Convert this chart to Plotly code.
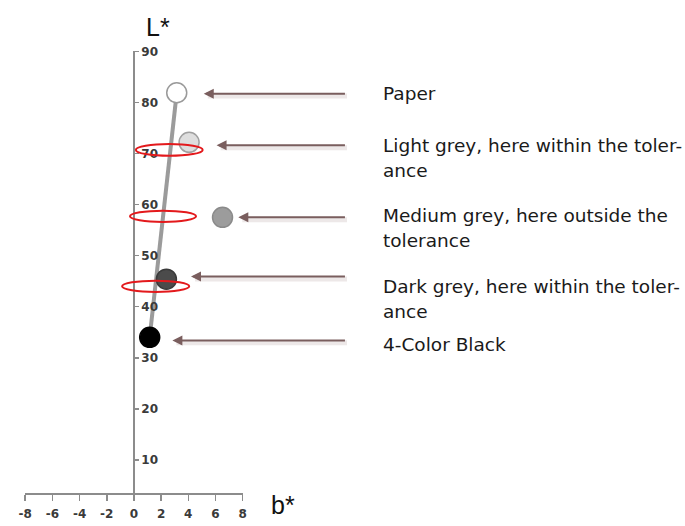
import plotly.graph_objects as go

# ---------------- data ----------------
sample_names = ["Paper", "Light grey", "Medium grey", "Dark grey", "4-Color Black"]
sample_b = [3.15, 4.06, 6.52, 2.39, 1.16]
sample_L = [81.9, 72.2, 57.5, 45.4, 34.0]
sample_fill = ["#ffffff", "#dedede", "#9c9c9c", "#4b4b4b", "#000000"]
sample_edge = ["#9a9a9a", "#a0a0a0", "#8a8a8a", "#3a3a3a", "#000000"]

# grey reference line (paper -> black)
ref_b = [3.15, 1.16]
ref_L = [81.9, 34.0]

# tolerance ellipses (centre b, centre L, half-width b, half-height L)
tol_b = [2.60, 2.14, 1.60]
tol_L = [70.7, 57.7, 44.0]
tol_rb = [2.46, 2.43, 2.47]
tol_rL = [1.15, 1.10, 1.10]

# arrows (tip b, L); all start at the same b
arrow_tip_b = [5.14, 6.08, 7.68, 4.20, 2.83]
arrow_L = [81.7, 71.6, 57.5, 45.9, 33.4]
arrow_tail_b = 15.64

# label texts
label_lines = [
    ["Paper"],
    ["Light grey, here within the toler-", "ance"],
    ["Medium grey, here outside the", "tolerance"],
    ["Dark grey, here within the toler-", "ance"],
    ["4-Color Black"],
]
label_L = [81.7, 71.6, 57.9, 44.0, 32.6]
line_gap_L = 5.0

x_ticks = [-8, -6, -4, -2, 0, 2, 4, 6, 8]
y_ticks = [10, 20, 30, 40, 50, 60, 70, 80, 90]

# ---------------- geometry (figure pixels) ----------------
W, H = 685, 526
px_per_b = 13.81
px_per_L = 5.175
x0_px = 129          # pixel of b = 0
y90_px = 45          # pixel of L = 90
axis_px = 493        # pixel row of the b* axis
label_px = 380       # left edge of label text

x_min, x_max = min(x_ticks), max(x_ticks)
x_dom = [(x0_px + x_min * px_per_b) / W, (x0_px + x_max * px_per_b) / W]
y_bottom = 90 - (axis_px - y90_px) / px_per_L
y_top = 90 + y90_px / px_per_L
y_dom = [(H - axis_px) / H, 1.0]


def L_to_paper(L):
    return y_dom[0] + (L - y_bottom) / (y_top - y_bottom) * (y_dom[1] - y_dom[0])


fig = go.Figure()

# grey line
fig.add_trace(go.Scatter(
    x=ref_b, y=ref_L, mode="lines",
    line=dict(color="#9b9b9b", width=4),
    hoverinfo="skip", showlegend=False, cliponaxis=False))

# samples
fig.add_trace(go.Scatter(
    x=sample_b, y=sample_L, mode="markers", text=sample_names,
    marker=dict(size=20, color=sample_fill,
                line=dict(color=sample_edge, width=1.5)),
    cliponaxis=False, showlegend=False))

# tolerance ellipses
for cb, cl, rb, rl in zip(tol_b, tol_L, tol_rb, tol_rL):
    fig.add_shape(type="circle", xref="x", yref="y",
                  x0=cb - rb, x1=cb + rb, y0=cl - rl, y1=cl + rl,
                  line=dict(color="#e3191c", width=2), fillcolor="rgba(0,0,0,0)")

# arrows (with soft shadow)
for tb, al in zip(arrow_tip_b, arrow_L):
    fig.add_annotation(x=tb + 0.3, y=al - 0.45, ax=arrow_tail_b + 0.15, ay=al - 0.45,
                       xref="x", yref="y", axref="x", ayref="y",
                       text="", showarrow=True, arrowhead=0, arrowwidth=5,
                       arrowcolor="rgba(160,130,130,0.18)", standoff=0)
    fig.add_annotation(x=tb, y=al, ax=arrow_tail_b, ay=al,
                       xref="x", yref="y", axref="x", ayref="y",
                       text="", showarrow=True, arrowhead=2, arrowsize=1,
                       arrowwidth=2, arrowcolor="#7a5e5e", standoff=0)

# labels
for lines, ll in zip(label_lines, label_L):
    for i, t in enumerate(lines):
        fig.add_annotation(x=label_px / W, y=L_to_paper(ll - i * line_gap_L),
                           xref="paper", yref="paper",
                           text=t, showarrow=False, xanchor="left", yanchor="middle",
                           font=dict(family="DejaVu Sans", size=18.5, color="#1a1a1a"))

# axis titles
fig.add_annotation(x=153 / W, y=1 - 20 / H, xref="paper", yref="paper",
                   text="L*", showarrow=False, xanchor="center", yanchor="middle",
                   font=dict(family="Liberation Sans", size=25, color="#111111"))
fig.add_annotation(x=280 / W, y=1 - 505 / H, xref="paper", yref="paper",
                   text="b*", showarrow=False, xanchor="center", yanchor="middle",
                   font=dict(family="Liberation Sans", size=25, color="#111111"))

tick_font = dict(family="DejaVu Sans", size=12, color="#3a3a3a", weight="bold")

fig.update_layout(
    width=W, height=H, autosize=False,
    margin=dict(l=0, r=0, t=0, b=0),
    paper_bgcolor="white", plot_bgcolor="white",
    showlegend=False,
    xaxis=dict(range=[x_min, x_max], domain=x_dom, anchor="y",
               tickvals=x_ticks, ticktext=[str(v) for v in x_ticks],
               ticks="outside", ticklen=6, tickwidth=1.5, tickcolor="#8c8c8c",
               showgrid=False, zeroline=False,
               showline=True, linecolor="#8c8c8c", linewidth=2,
               tickfont=tick_font, ticklabelstandoff=2),
    yaxis=dict(range=[y_bottom, max(y_ticks)], anchor="free", side="right",
               domain=[y_dom[0], L_to_paper(max(y_ticks))],
               position=x0_px / W,
               tickvals=y_ticks, ticktext=[str(v) for v in y_ticks],
               ticks="outside", ticklen=4, tickwidth=1.5, tickcolor="#8c8c8c",
               showgrid=False, zeroline=False,
               showline=True, linecolor="#8c8c8c", linewidth=2,
               tickfont=tick_font),
)

fig.write_html(
    "out.html",
    config={"displayModeBar": False, "staticPlot": True},
    post_script="document.body.style.margin='0';document.body.style.overflow='hidden';",
)
